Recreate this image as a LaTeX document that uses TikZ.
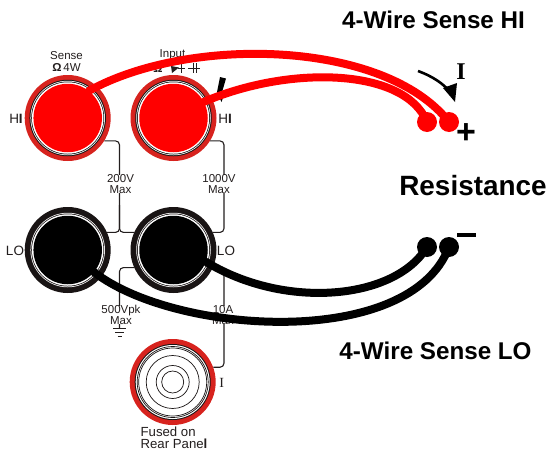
\documentclass[tikz,border=0pt]{standalone}
\usepackage{fontspec}
\setmainfont{Liberation Sans}
\newfontfamily\serifI{Liberation Serif}
\usetikzlibrary{positioning}
\definecolor{ringred}{RGB}{215,35,30}
\definecolor{ringblack}{RGB}{25,20,20}
\definecolor{linegray}{RGB}{35,30,30}
\tikzstyle{jack} = [circle, inner sep=0pt, minimum size=86pt]
\tikzstyle{ring} = [circle, inner sep=0pt]
\tikzstyle{dot} = [circle, inner sep=0pt, minimum size=20pt]
\tikzstyle{tag} = [inner sep=0pt, align=center, font=\fontsize{11.5pt}{10.5pt}\selectfont, text=linegray]
\tikzstyle{side} = [inner sep=0pt, font=\fontsize{13.5pt}{14pt}\selectfont, text=linegray]
\tikzstyle{title} = [inner sep=0pt, font=\bfseries\fontsize{24.2pt}{26pt}\selectfont]
\tikzstyle{trace} = [draw=linegray, line width=1.1pt, rounded corners=4pt]
\tikzstyle{wire} = [line width=8pt, line cap=round]

\begin{document}
\begin{tikzpicture}[x=1pt, y=-1pt, node distance=132pt and 105.8pt, on grid]
  \useasboundingbox (0,0) rectangle (547,450);

  % jacks
  \node (senseHI) [jack, fill=ringred] at (67.7,118) {};
  \node (inputHI) [jack, fill=ringred, right=of senseHI] {};
  \node (senseLO) [jack, fill=ringblack, below=of senseHI] {};
  \node (inputLO) [jack, fill=ringblack, below=of inputHI] {};
  \node (rear) [jack, fill=ringred] at (172.7,382) {};

  \foreach \jack/\corecol in {senseHI/red, inputHI/red, senseLO/black, inputLO/black}{
    \node [ring, fill=ringblack, minimum size=76.5pt] at (\jack) {};
    \node [ring, fill=white, minimum size=74.5pt] at (\jack) {};
    \node [ring, fill=ringblack, minimum size=73pt] at (\jack) {};
    \node [ring, fill=white, minimum size=71.5pt] at (\jack) {};
    \node (\jack core) [ring, fill=\corecol, minimum size=68.5pt] at (\jack) {};
  }

  % rear jack
  \node [ring, fill=ringblack, minimum size=76pt] at (rear) {};
  \node [ring, fill=white, minimum size=74pt] at (rear) {};
  \foreach \ringsize in {71, 68, 53, 33, 22}{
    \node [ring, draw=ringblack, line width=0.7pt, minimum size=\ringsize pt] at (rear) {};
  }

  % traces
  \coordinate (hub) at (119.5,205);
  \coordinate (gnd) at (119.5,328);
  \coordinate (amp) at (224,305);
  \draw [trace] (senseHI.-32) -| (hub) |- (senseLO.24);
  \draw [trace] (hub) |- (inputLO.156);
  \draw [trace] (inputHI.-32) -| (224,190) |- (inputLO.24);
  \draw [trace] (inputLO.-156) -| (gnd);
  \draw [trace] (inputLO.-22) -| (amp);
  \draw [trace] (amp) |- (rear.20);

  % labels
  \node (senseTag) [tag] at (66.5,61.5) {Sense\\[1.5pt]{\bfseries Ω}\,4W};
  \node (inputTag) [tag] at (172.5,54.5) {Input};
  \node (inputOhm) [tag] at (158,68) {\bfseries Ω};
  \node (hiLeft) [side] at (16,118.5) {H\textbf{I}};
  \node (hiRight) [side] at (225,118.5) {H\textbf{I}};
  \node (loLeft) [side] at (15,250.5) {LO};
  \node (loRight) [side] at (226,250.5) {LO};
  \node (tagA) [tag, fill=white, inner xsep=1pt] at (120.5,184) {200V\\Max};
  \node (tagB) [tag, fill=white, inner xsep=1pt] at (219,184) {1000V\\Max};
  \node (tagC) [tag, fill=white, inner xsep=1pt] at (121,315) {500Vpk\\Max};
  \node (tagD) [tag, fill=white, inner xsep=1pt] at (223,315) {10A\\Max};
  \node (ampTag) [font=\serifI\fontsize{14pt}{14pt}\selectfont, text=linegray, inner sep=0pt] at (221.7,382.7) {I};
  \node (rearTag) [tag, font=\fontsize{13.2pt}{12pt}\selectfont, align=left] at (174,437.5) {Fused on\\Rear Pane\textbf{l}};

  % ground mark
  \draw [linegray, line width=0.8pt] (113,328) -- (125.5,328)
    (115,332) -- (124,332) (117.5,336) -- (122,336);

  % diode and capacitor marks
  \fill [linegray] (171,66) -- (179,67.5) -- (172,73) -- cycle;
  \draw [linegray, line width=0.7pt] (181.7,63) -- (181.7,73) (178,68) -- (185,68)
    (193.5,63) -- (193.5,73) (196,63) -- (196,73) (188,68) -- (200,68);
  \fill [black] (220,77) -- (226,78.5) -- (221.5,94) -- (224,95) -- (221.5,102) -- (218,95) -- (217,92) -- cycle;

  % terminals
  \node (dotA) [dot, fill=red] at (427,122) {};
  \node (dotB) [dot, fill=red] at (449,122) {};
  \node (dotC) [dot, fill=black] at (427,247) {};
  \node (dotD) [dot, fill=black] at (449,247) {};

  % wires
  \draw [wire, red] (senseHIcore.52) .. controls (190,35) and (385,40) .. (dotB.center);
  \draw [wire, red] (inputHIcore.28) .. controls (290,65) and (405,68) .. (dotA.center);
  \draw [wire, black] (inputLOcore.-20) .. controls (285,310) and (395,300) .. (dotC.center);
  \draw [wire, black] (senseLOcore.-40) .. controls (175,335) and (410,350) .. (dotD.center);

  % current arrow
  \coordinate (arrowFrom) at (418,71);
  \coordinate (arrowTo) at (455,102);
  \draw [line width=2.6pt] (arrowFrom) .. controls (432,76) and (444,84) .. (450,92);
  \fill [black] (arrowTo) -- (443,88) -- (457,83) -- cycle;
  \node (currentTag) [font=\serifI\bfseries\fontsize{24pt}{24pt}\selectfont, inner sep=0pt] at (461,72) {I};
  \node (plusTag) [font=\bfseries\fontsize{34pt}{34pt}\selectfont, inner sep=0pt] at (466,134) {+};
  \coordinate (minusFrom) at (457,235);
  \coordinate (minusTo) at (476,235);
  \draw [line width=3.4pt] (minusFrom) -- (minusTo);

  % titles
  \node (senseHItitle) [title] at (433.5,20) {4-Wire Sense HI};
  \node (resTitle) [title, font=\bfseries\fontsize{27.9pt}{28pt}\selectfont] at (473,186) {Resistance};
  \node (senseLOtitle) [title] at (435.5,351) {4-Wire Sense LO};
\end{tikzpicture}
\end{document}
